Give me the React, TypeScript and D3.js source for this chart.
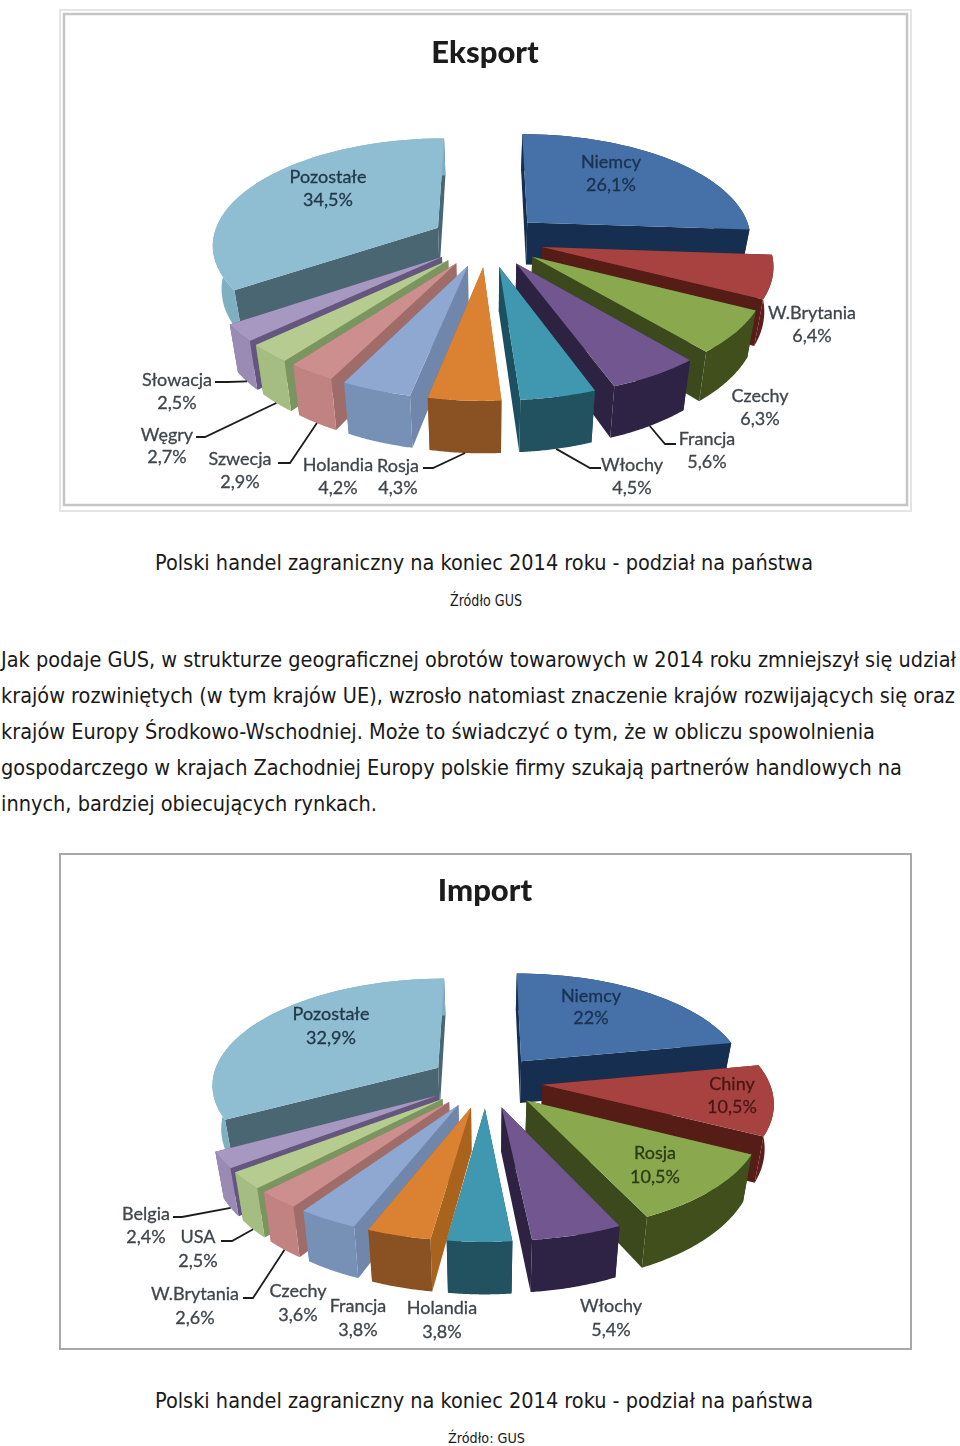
import React from 'react'
import * as d3 from 'd3'

// Eksport
const exportNames = ['Niemcy', 'W.Brytania', 'Czechy', 'Francja', 'Włochy', 'Rosja', 'Holandia', 'Szwecja', 'Węgry', 'Słowacja', 'Pozostałe']
const exportValues = [26.1, 6.4, 6.3, 5.6, 4.5, 4.3, 4.2, 2.9, 2.7, 2.5, 34.5]
const exportLabelText = ['26,1%', '6,4%', '6,3%', '5,6%', '4,5%', '4,3%', '4,2%', '2,9%', '2,7%', '2,5%', '34,5%']

// Import
const importNames = ['Niemcy', 'Chiny', 'Rosja', 'Włochy', 'Holandia', 'Francja', 'Czechy', 'W.Brytania', 'USA', 'Belgia', 'Pozostałe']
const importValues = [22, 10.5, 10.5, 5.4, 3.8, 3.8, 3.6, 2.6, 2.5, 2.4, 32.9]
const importLabelText = ['22%', '10,5%', '10,5%', '5,4%', '3,8%', '3,8%', '3,6%', '2,6%', '2,5%', '2,4%', '32,9%']

// [top, radial side, outer side]
const palette = [
  ['#4471a8', '#182f50', '#182f50'],
  ['#a8423f', '#561a18', '#5f1c1a'],
  ['#8aa94f', '#3b4a1b', '#3f4f1d'],
  ['#71578f', '#2e2343', '#2f2444'],
  ['#3f97b0', '#1b4f5f', '#20515f'],
  ['#db8233', '#a9641f', '#8a5120'],
  ['#8fa8d1', '#6f87ab', '#7790b6'],
  ['#cd8f8e', '#a06c6b', '#c08382'],
  ['#b6cb8f', '#7a9560', '#a6bd81'],
  ['#a698c1', '#655680', '#9a8bb5'],
  ['#8fbdd1', '#4a6672', '#7fb0c2'],
]

// label anchors: [x, name baseline, value baseline]
const exportLabelPos = [[611, 168, 191], [812, 319, 342], [760, 402, 425], [707, 445, 468], [632, 471, 494], [398, 472, 494], [338, 471, 494], [240, 465, 488], [167, 441, 463], [177, 386, 409], [328, 183, 206]]
const importLabelPos = [[591, 1002, 1024], [732, 1090, 1113], [655, 1159, 1183], [611, 1312, 1336], [442, 1314, 1338], [358, 1312, 1336], [298, 1297, 1321], [195, 1300, 1324], [198, 1243, 1267], [146, 1220, 1243], [331, 1020, 1044]]

const labelInk = ['#1b3150', '#3f464c', '#3f464c', '#3f464c', '#3f464c', '#3f464c', '#3f464c', '#3f464c', '#3f464c', '#3f464c', '#22394a']
const importInk = ['#1b3150', '#4a1815', '#2c3a12', '#3f464c', '#3f464c', '#3f464c', '#3f464c', '#3f464c', '#3f464c', '#3f464c', '#22394a']

// leader elbows keyed by slice name: [label side x, y, elbow x]
const exportLeaders: Record<string, number[]> = {
  'Słowacja': [215, 382, 228],
  'Węgry': [196, 437, 205],
  'Szwecja': [278, 463, 290],
  'Rosja': [423, 468, 433],
  'Włochy': [601, 468, 590],
  'Francja': [676, 444, 665],
}
const importLeaders: Record<string, number[]> = {
  'Belgia': [173, 1217, 182],
  'USA': [221, 1241, 232],
  'W.Brytania': [243, 1298, 253],
}

const paragraph = [
  ['Jak podaje GUS, w strukturze geograficznej obrotów towarowych w 2014 roku zmniejszył się udział', 955],
  ['krajów rozwiniętych (w tym krajów UE), wzrosło natomiast znaczenie krajów rozwijających się oraz', 954],
  ['krajów Europy Środkowo-Wschodniej. Może to świadczyć o tym, że w obliczu spowolnienia', 874],
  ['gospodarczego w krajach Zachodniej Europy polskie firmy szukają partnerów handlowych na', 901],
  ['innych, bardziej obiecujących rynkach.', 376],
] as [string, number][]

const captionText = 'Polski handel zagraniczny na koniec 2014 roku - podział na państwa'

const bodyFont = '"DejaVu Sans Condensed", "DejaVu Sans", sans-serif'
const chartFont = 'Lato, sans-serif'

type PieProps = {
  names: string[]
  values: number[]
  valueText: string[]
  labelPos: number[][]
  ink: string[]
  leaders: Record<string, number[]>
  cx: number
  cy: number
  rx: number
  explode: number
}

function ExplodedPie({ names, values, valueText, labelPos, ink, leaders, cx, cy, rx, explode }: PieProps) {
  const ky = 110
  const persp = 0.15
  const depth = 43
  const baseShrink = 0.968
  const radius = 0.96

  const arcs = d3.pie<number>().sort(null)(values)
  const line = d3.line()

  // ground plane -> screen, optional drop to the bottom face
  const project = (gx: number, gy: number, bottom = false): [number, number] => {
    const s = 1 / (1 + persp * gy)
    const x = rx * gx * s
    const y = cy - ky * gy * s
    return bottom ? [cx + x * baseShrink, y + depth * s] : [cx + x, y]
  }

  const slices = arcs.map((a, i) => {
    const mid = (a.startAngle + a.endAngle) / 2
    const ox = explode * Math.sin(mid)
    const oy = explode * Math.cos(mid)
    const rim = (t: number): [number, number] => [ox + radius * Math.sin(t), oy + radius * Math.cos(t)]
    const angles = d3.range(0, 41).map(k => a.startAngle + (a.endAngle - a.startAngle) * k / 40)

    const topRim = angles.map(t => project(...rim(t)))
    const botRim = angles.map(t => project(...rim(t), true))
    const tipT = project(ox, oy)
    const tipB = project(ox, oy, true)

    return {
      i,
      mid,
      top: line([tipT, ...topRim])! + 'Z',
      outer: line([...topRim, ...botRim.slice().reverse()])! + 'Z',
      startFace: line([tipT, topRim[0], botRim[0], tipB])! + 'Z',
      endFace: line([tipT, topRim[40], botRim[40], tipB])! + 'Z',
      leaderEnd: botRim[20],
    }
  })

  const order = slices.slice().sort((p, q) => Math.cos(q.mid) - Math.cos(p.mid))

  return (
    <g>
      {order.map(s => (
        <g key={s.i}>
          <path d={s.startFace} fill={palette[s.i][1]} />
          <path d={s.endFace} fill={palette[s.i][1]} />
          <path d={s.outer} fill={palette[s.i][2]} />
          <path d={s.top} fill={palette[s.i][0]} />
        </g>
      ))}
      {slices.map(s => {
        const l = leaders[names[s.i]]
        if (!l) return null
        return (
          <path
            key={s.i}
            d={line([[l[0], l[1]], [l[2], l[1]], s.leaderEnd])!}
            fill="none"
            stroke="#1f1f1f"
            strokeWidth={1.8}
          />
        )
      })}
      {names.map((n, i) => (
        <g key={n} fontFamily={chartFont} fontSize={18} textAnchor="middle" fill={ink[i]} stroke={ink[i]} strokeWidth={0.3}>
          <text x={labelPos[i][0]} y={labelPos[i][1]}>{n}</text>
          <text x={labelPos[i][0]} y={labelPos[i][2]}>{valueText[i]}</text>
        </g>
      ))}
    </g>
  )
}

export default function App() {
  return (
    <svg
      width={960}
      height={1446}
      style={{ position: 'absolute', left: 0, top: 0, display: 'block', background: '#fff' }}
    >
      <defs>
        <filter id="soft" x="-5%" y="-5%" width="110%" height="110%">
          <feGaussianBlur stdDeviation="0.55" />
        </filter>
      </defs>

      <g filter="url(#soft)">
        <rect x={60} y={10} width={851} height={501} fill="#fff" stroke="#e4e4e4" strokeWidth={2} />
        <rect x={64} y={14} width={843} height={491} fill="#fff" stroke="#c6c6c6" strokeWidth={2.5} />
        <text x={485} y={63} textAnchor="middle" fontFamily={chartFont} fontWeight={900} fontSize={31} fill="#1c1c1c">Eksport</text>
        <ExplodedPie
          names={exportNames}
          values={exportValues}
          valueText={exportLabelText}
          labelPos={exportLabelPos}
          ink={labelInk}
          leaders={exportLeaders}
          cx={487}
          cy={240}
          rx={235}
          explode={0.24}
        />
      </g>

      <text x={155} y={570} fontFamily={bodyFont} fontStretch="condensed" fontSize={21.4} textLength={658} lengthAdjust="spacingAndGlyphs" fill="#1a1a1a">{captionText}</text>
      <text x={450} y={606} fontFamily={bodyFont} fontStretch="condensed" fontSize={15} textLength={72} lengthAdjust="spacingAndGlyphs" fill="#1a1a1a">Źródło GUS</text>

      {paragraph.map(([t, w], i) => (
        <text key={i} x={1} y={667 + i * 36} fontFamily={bodyFont} fontStretch="condensed" fontSize={21.4} textLength={w} lengthAdjust="spacingAndGlyphs" fill="#1a1a1a">{t}</text>
      ))}

      <g filter="url(#soft)">
        <rect x={60} y={854} width={851} height={495} fill="#fff" stroke="#a8a8a8" strokeWidth={2} />
        <text x={485} y={901} textAnchor="middle" fontFamily={chartFont} fontWeight={900} fontSize={31} fill="#1c1c1c">Import</text>
        <ExplodedPie
          names={importNames}
          values={importValues}
          valueText={importLabelText}
          labelPos={importLabelPos}
          ink={importInk}
          leaders={importLeaders}
          cx={486}
          cy={1081}
          rx={236}
          explode={0.24}
        />
      </g>

      <text x={155} y={1408} fontFamily={bodyFont} fontStretch="condensed" fontSize={21.4} textLength={658} lengthAdjust="spacingAndGlyphs" fill="#1a1a1a">{captionText}</text>
      <text x={448} y={1443} fontFamily={bodyFont} fontStretch="condensed" fontSize={14} textLength={77} lengthAdjust="spacingAndGlyphs" fill="#1a1a1a">Źródło: GUS</text>
    </svg>
  )
}
